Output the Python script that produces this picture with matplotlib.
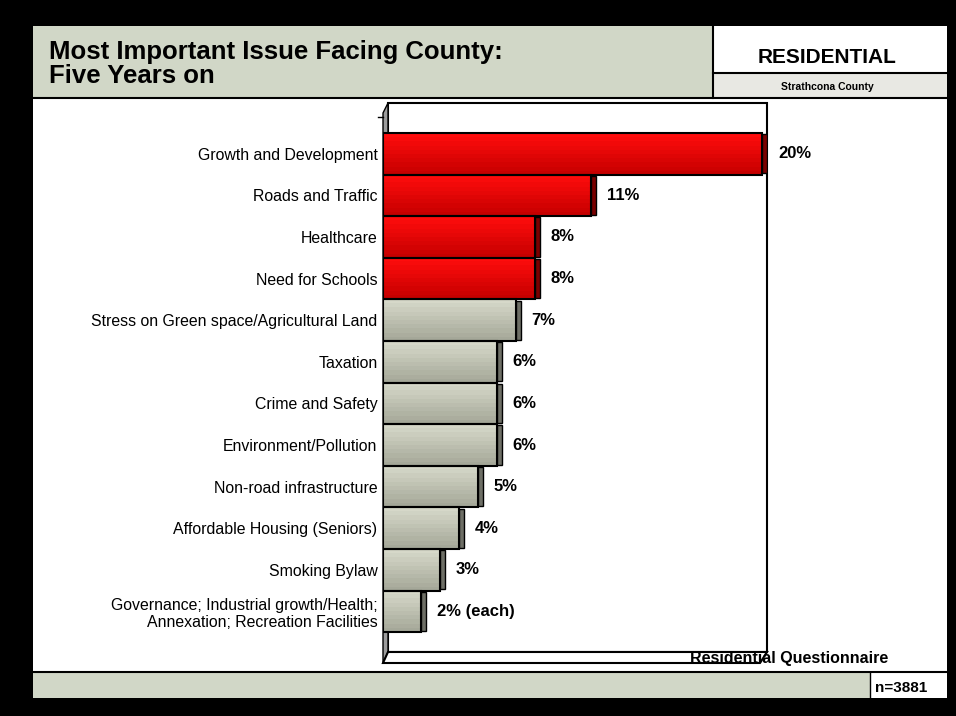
import numpy as np
import matplotlib
matplotlib.use("Agg")
import matplotlib.pyplot as plt
from matplotlib.patches import Rectangle, Polygon

plt.rcParams['font.family'] = ['Liberation Sans', 'DejaVu Sans']

# ------------------------------------------
# Data
# ------------------------------------------
categories = [
    "Growth and Development",
    "Roads and Traffic",
    "Healthcare",
    "Need for Schools",
    "Stress on Green space/Agricultural Land",
    "Taxation",
    "Crime and Safety",
    "Environment/Pollution",
    "Non-road infrastructure",
    "Affordable Housing (Seniors)",
    "Smoking Bylaw",
    "Governance; Industrial growth/Health;\nAnnexation; Recreation Facilities",
]
values = [20, 11, 8, 8, 7, 6, 6, 6, 5, 4, 3, 2]
value_labels = ["20%", "11%", "8%", "8%", "7%", "6%", "6%", "6%",
                "5%", "4%", "3%", "2% (each)"]
top_issues = 4  # first bars drawn in red

title_lines = ["Most Important Issue Facing County:", "Five Years on"]
segment = "RESIDENTIAL"
region = "Strathcona County"
source = "Residential Questionnaire"
sample = "n=3881"

# ------------------------------------------
# Figure / page layout (pixel helpers)
# ------------------------------------------
W, H = 956, 716
fig = plt.figure(figsize=(W / 100, H / 100), dpi=100, facecolor="black")


def px_axes(x0, y0, x1, y1):
    return fig.add_axes([x0 / W, 1 - y1 / H, (x1 - x0) / W, (y1 - y0) / H])


bg = fig.add_axes([0, 0, 1, 1])
bg.set_xlim(0, W)
bg.set_ylim(H, 0)
bg.axis("off")
bg.patch.set_alpha(0)

LW = 1.5
header_col = "#D1D7C7"
sub_col = "#E8E8E3"

# white page
bg.add_patch(Rectangle((33, 26), 914, 672, facecolor="white", edgecolor="none"))
# header
bg.add_patch(Rectangle((33, 26), 680, 72, facecolor=header_col, edgecolor="none"))
bg.add_patch(Rectangle((713, 73), 234, 25, facecolor=sub_col, edgecolor="none"))
bg.plot([713, 713], [26, 98], color="black", lw=LW)
bg.plot([713, 947], [73, 73], color="black", lw=LW)
bg.plot([33, 947], [98, 98], color="black", lw=LW)
# footer
bg.add_patch(Rectangle((33, 672), 837, 26, facecolor=header_col, edgecolor="none"))
bg.plot([33, 947], [672, 672], color="black", lw=LW)
bg.plot([870, 870], [672, 698], color="black", lw=1)

bg.text(49, 59, title_lines[0], fontsize=18.5, fontweight="bold", va="baseline")
bg.text(49, 83, title_lines[1], fontsize=18.5, fontweight="bold", va="baseline")
bg.text(827, 63, segment, fontsize=15, fontweight="bold", ha="center", va="baseline")
bg.text(827, 90, region, fontsize=7.5, fontweight="bold", ha="center", va="baseline")
bg.text(901, 692, sample, fontsize=11, fontweight="bold", ha="center", va="baseline")

# 3D chart frame: back wall, left wall, floor
bg.add_patch(Rectangle((388, 103), 379, 549, facecolor="white", edgecolor="black", lw=LW))
bg.add_patch(Polygon([(383, 113), (388, 103), (388, 652), (383, 663)],
                     facecolor="#9C9C9C", edgecolor="black", lw=1))
bg.add_patch(Polygon([(388, 652), (767, 652), (760, 663), (383, 663)],
                     facecolor="white", edgecolor="black", lw=LW))
bg.plot([378, 383], [117, 117], color="black", lw=1)
bg.text(888, 663, source, fontsize=11.5, fontweight="bold", ha="right", va="baseline")

# ------------------------------------------
# Bars
# ------------------------------------------
ax = px_axes(383, 103, 767, 663)
ax.patch.set_alpha(0)
for s in ax.spines.values():
    s.set_visible(False)

y = np.arange(len(values))
side_w = 0.26

red_grad = np.linspace([1.0, 0.05, 0.05], [0.78, 0.0, 0.0], 10)[:, None, :]
grey_grad = np.linspace([0.84, 0.85, 0.79], [0.65, 0.66, 0.60], 10)[:, None, :]

for i, v in enumerate(values):
    grad = red_grad if i < top_issues else grey_grad
    ax.imshow(grad, extent=(0, v, y[i] + 0.5, y[i] - 0.5), aspect="auto",
              interpolation="nearest", zorder=2)

side_cols = ["#7A0000" if i < top_issues else "#6E6F66" for i in range(len(values))]
ax.barh(y, values, height=1.0, facecolor="none", edgecolor="black", lw=LW, zorder=3)
ax.barh(y, side_w, left=values, height=0.94, color=side_cols,
        edgecolor="black", lw=1, zorder=3)

for i, v in enumerate(values):
    ax.annotate(value_labels[i], (v, y[i]), xytext=(11.5, 0), textcoords="offset points",
                ha="left", va="center", fontsize=12, fontweight="bold")

ax.set_yticks(y, categories, fontsize=11.4)
ax.set_xticks([])
ax.tick_params(axis="y", length=0, pad=4)
ax.set_xlim(0, 20.26)
ax.set_ylim(12.24, -1.221)

plt.savefig("out.png", dpi=100, facecolor="black")
